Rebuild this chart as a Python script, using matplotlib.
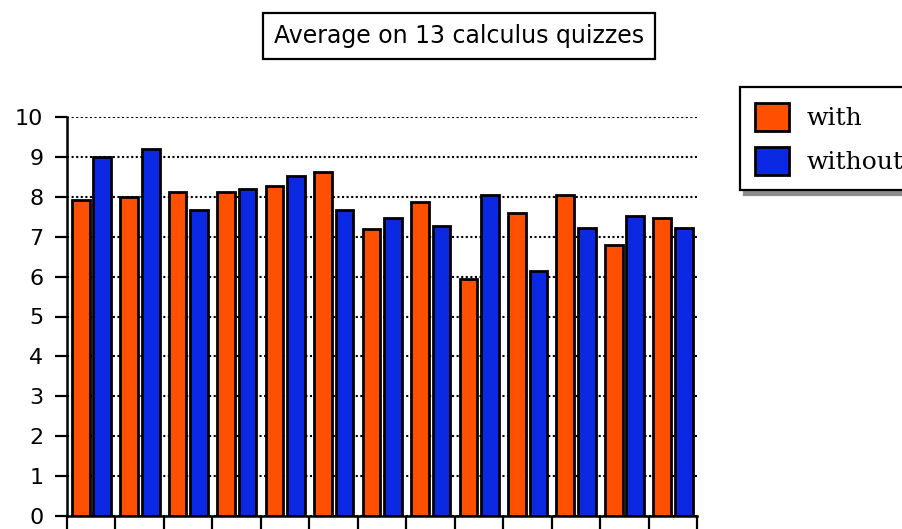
import numpy as np
import matplotlib
matplotlib.use("Agg")
import matplotlib.pyplot as plt

title = "Average on 13 calculus quizzes"
series_names = ["with", "without"]
with_vals = [7.93, 8.0, 8.13, 8.12, 8.26, 8.61, 7.20, 7.86, 5.93, 7.59, 8.05, 6.79, 7.46]
without_vals = [9.0, 9.2, 7.67, 8.19, 8.53, 7.67, 7.46, 7.27, 8.05, 6.15, 7.21, 7.52, 7.21]
y_ticks = list(range(0, 11))

c_with = "#FF4F00"
c_without = "#0B29E3"

fig = plt.figure(figsize=(9.03, 5.29), dpi=100)
W, H = 903, 529
ax = fig.add_axes([67 / W, 1 - 516 / H, 630 / W, 399 / H])

x = np.arange(len(with_vals))
bw = 0.365
b1 = ax.bar(x + 0.1, with_vals, width=bw, align="edge", color=c_with,
            edgecolor="black", linewidth=2.0, label=series_names[0], zorder=3)
b2 = ax.bar(x + 0.545, without_vals, width=bw, align="edge", color=c_without,
            edgecolor="black", linewidth=2.0, label=series_names[1], zorder=3)

ax.set_xlim(0, len(with_vals))
ax.set_ylim(0, 10)
ax.set_yticks(y_ticks)
ax.set_xticks(np.arange(len(with_vals) + 1))
ax.set_xticklabels([])
ax.tick_params(axis="y", direction="out", length=9, width=1.6, pad=8, labelsize=16)
ax.tick_params(axis="x", direction="out", length=10, width=1.6)
for lbl in ax.get_yticklabels():
    lbl.set_family("DejaVu Sans")

ax.yaxis.grid(True, linestyle=(0, (1, 1.2)), color="black", linewidth=1.5, zorder=0)
ax.set_axisbelow(True)
for s in ["top", "right"]:
    ax.spines[s].set_visible(False)
for s in ["left", "bottom"]:
    ax.spines[s].set_linewidth(1.8)
    ax.spines[s].set_zorder(4)

fig.text(459 / W, 1 - 36 / H, title, ha="center", va="center", fontsize=17,
         family="DejaVu Sans",
         bbox=dict(boxstyle="square,pad=0.45", fc="white", ec="black", lw=1.6))

leg = fig.legend(handles=[b1, b2], labels=series_names, loc="upper left",
                 bbox_to_anchor=(740 / W, 1 - 87 / H), borderaxespad=0,
                 prop={"family": "DejaVu Serif", "size": 18},
                 frameon=True, fancybox=False, framealpha=1,
                 edgecolor="black", handlelength=1.35, handleheight=1.35,
                 handletextpad=0.7, labelspacing=0.65, borderpad=0.62,
                 shadow={"ox": 3, "oy": -3, "color": "0.55", "alpha": 1})
leg.get_frame().set_linewidth(1.6)

fig.savefig("out.png", dpi=100)
